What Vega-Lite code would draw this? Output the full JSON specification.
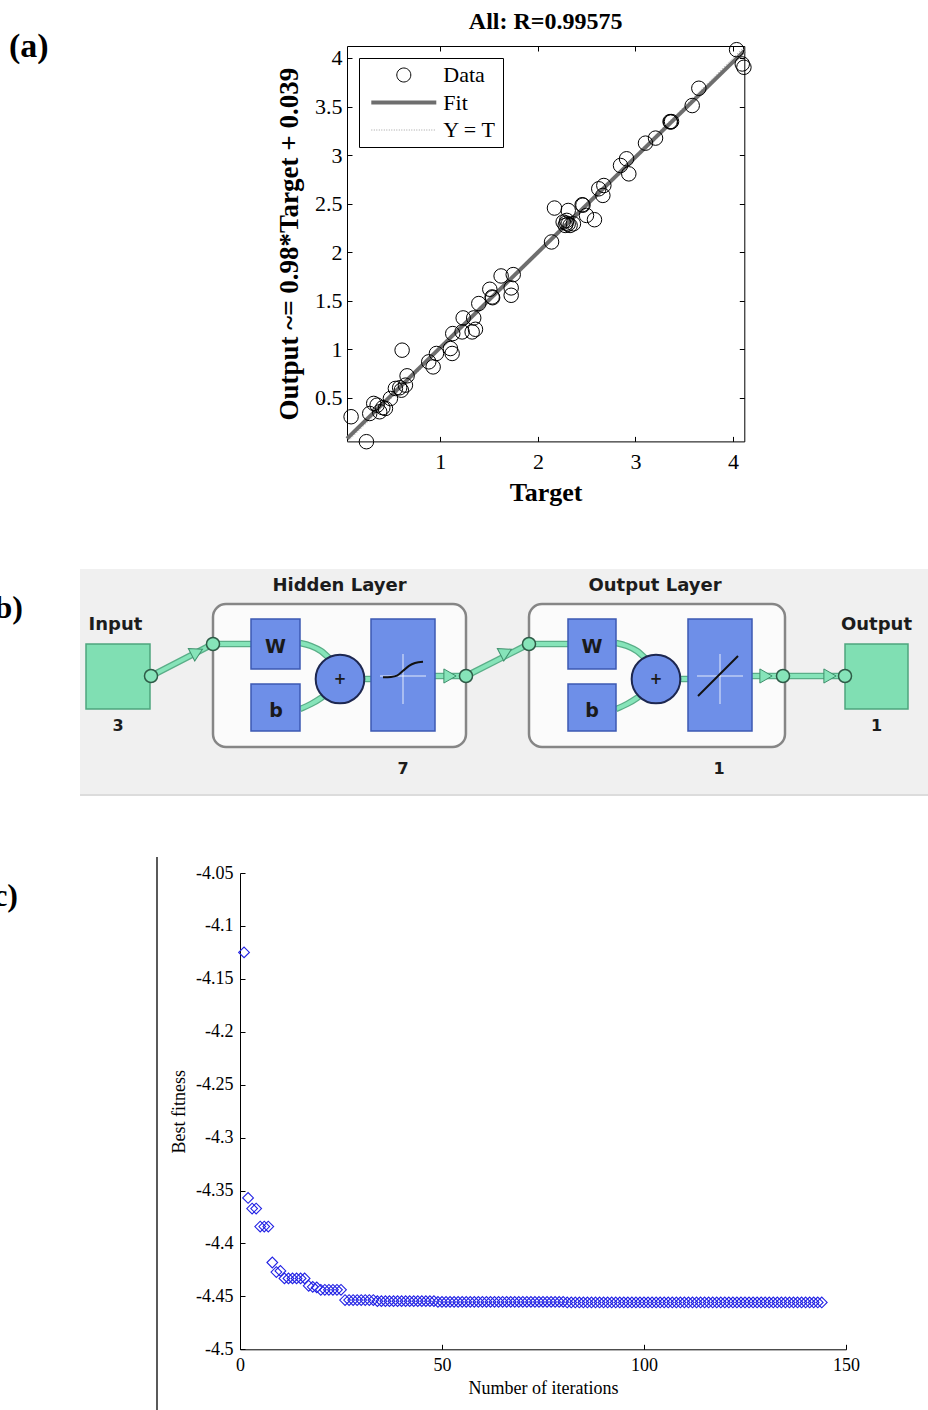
{
  "$schema": "https://vega.github.io/schema/vega-lite/v6.json",
  "background": "white",
  "padding": {"top": 10, "left": 0, "right": 0, "bottom": 0},
  "spacing": 60,
  "resolve": {"scale": {"color": "independent"}, "legend": {"color": "independent"}},
  "datasets": {
    "regression": [
      {"target": 0.085, "output": 0.307}, {"target": 0.242, "output": 0.05}, {"target": 0.276, "output": 0.34},
      {"target": 0.317, "output": 0.444}, {"target": 0.352, "output": 0.426}, {"target": 0.378, "output": 0.358},
      {"target": 0.41, "output": 0.4}, {"target": 0.437, "output": 0.392}, {"target": 0.488, "output": 0.495},
      {"target": 0.539, "output": 0.598}, {"target": 0.583, "output": 0.605}, {"target": 0.6, "output": 0.58},
      {"target": 0.608, "output": 0.992}, {"target": 0.642, "output": 0.632}, {"target": 0.659, "output": 0.728},
      {"target": 0.881, "output": 0.872}, {"target": 0.926, "output": 0.82}, {"target": 0.96, "output": 0.958},
      {"target": 1.103, "output": 1.009}, {"target": 1.121, "output": 0.958}, {"target": 1.127, "output": 1.163},
      {"target": 1.223, "output": 1.18}, {"target": 1.234, "output": 1.324}, {"target": 1.326, "output": 1.18},
      {"target": 1.342, "output": 1.324}, {"target": 1.36, "output": 1.207}, {"target": 1.394, "output": 1.472},
      {"target": 1.507, "output": 1.619}, {"target": 1.531, "output": 1.54}, {"target": 1.536, "output": 1.532},
      {"target": 1.623, "output": 1.756}, {"target": 1.726, "output": 1.557}, {"target": 1.726, "output": 1.633},
      {"target": 1.747, "output": 1.77}, {"target": 2.14, "output": 2.106}, {"target": 2.17, "output": 2.455},
      {"target": 2.259, "output": 2.311}, {"target": 2.28, "output": 2.276}, {"target": 2.29, "output": 2.3},
      {"target": 2.296, "output": 2.328}, {"target": 2.311, "output": 2.43}, {"target": 2.31, "output": 2.29},
      {"target": 2.33, "output": 2.276}, {"target": 2.364, "output": 2.293}, {"target": 2.454, "output": 2.489},
      {"target": 2.462, "output": 2.485}, {"target": 2.498, "output": 2.379}, {"target": 2.58, "output": 2.335},
      {"target": 2.624, "output": 2.653}, {"target": 2.676, "output": 2.687}, {"target": 2.666, "output": 2.585},
      {"target": 2.847, "output": 2.893}, {"target": 2.909, "output": 2.962}, {"target": 2.932, "output": 2.807},
      {"target": 3.103, "output": 3.123}, {"target": 3.206, "output": 3.175}, {"target": 3.355, "output": 3.345},
      {"target": 3.36, "output": 3.34}, {"target": 3.37, "output": 3.345}, {"target": 3.582, "output": 3.51},
      {"target": 3.65, "output": 3.688}, {"target": 4.037, "output": 4.085}, {"target": 4.095, "output": 3.938},
      {"target": 4.112, "output": 3.904}
    ],
    "fitLine": [
      {"target": 0.043, "output": 0.0811},
      {"target": 4.116, "output": 4.07268}
    ],
    "identityLine": [
      {"target": 0.053, "output": 0.053},
      {"target": 4.116, "output": 4.116}
    ],
    "panelEdge": [{"x": 0, "x2": 848, "y": 226}],
    "layerFrames": [
      {"x": 133, "x2": 386, "y": 35, "y2": 178},
      {"x": 449, "x2": 705, "y": 35, "y2": 178}
    ],
    "ioBlocks": [
      {"x": 6, "x2": 70, "y": 75, "y2": 140},
      {"x": 765, "x2": 828, "y": 75, "y2": 140}
    ],
    "weightBlocks": [
      {"x": 171, "x2": 220, "y": 50, "y2": 100},
      {"x": 171, "x2": 220, "y": 115, "y2": 162},
      {"x": 291, "x2": 355, "y": 50, "y2": 162},
      {"x": 488, "x2": 536, "y": 50, "y2": 100},
      {"x": 488, "x2": 536, "y": 115, "y2": 162},
      {"x": 608, "x2": 672, "y": 50, "y2": 162}
    ],
    "links": [
      {"path": "p1", "i": 0, "x": 71, "y": 107}, {"path": "p1", "i": 1, "x": 133, "y": 75},
      {"path": "p2", "i": 0, "x": 133, "y": 75}, {"path": "p2", "i": 1, "x": 171, "y": 75},
      {"path": "p3", "i": 0, "x": 220, "y": 74}, {"path": "p3", "i": 1, "x": 231, "y": 77},
      {"path": "p3", "i": 2, "x": 241, "y": 82}, {"path": "p3", "i": 3, "x": 250, "y": 90},
      {"path": "p4", "i": 0, "x": 220, "y": 140}, {"path": "p4", "i": 1, "x": 231, "y": 135},
      {"path": "p4", "i": 2, "x": 241, "y": 129}, {"path": "p4", "i": 3, "x": 250, "y": 122},
      {"path": "p5", "i": 0, "x": 284, "y": 110}, {"path": "p5", "i": 1, "x": 291, "y": 110},
      {"path": "p6", "i": 0, "x": 355, "y": 107}, {"path": "p6", "i": 1, "x": 386, "y": 107},
      {"path": "p7", "i": 0, "x": 386, "y": 107}, {"path": "p7", "i": 1, "x": 449, "y": 75},
      {"path": "p8", "i": 0, "x": 449, "y": 75}, {"path": "p8", "i": 1, "x": 488, "y": 75},
      {"path": "p9", "i": 0, "x": 536, "y": 74}, {"path": "p9", "i": 1, "x": 547, "y": 77},
      {"path": "p9", "i": 2, "x": 557, "y": 82}, {"path": "p9", "i": 3, "x": 566, "y": 90},
      {"path": "p10", "i": 0, "x": 536, "y": 140}, {"path": "p10", "i": 1, "x": 547, "y": 135},
      {"path": "p10", "i": 2, "x": 557, "y": 129}, {"path": "p10", "i": 3, "x": 566, "y": 122},
      {"path": "p11", "i": 0, "x": 600, "y": 110}, {"path": "p11", "i": 1, "x": 608, "y": 110},
      {"path": "p12", "i": 0, "x": 672, "y": 107}, {"path": "p12", "i": 1, "x": 703, "y": 107},
      {"path": "p13", "i": 0, "x": 703, "y": 107}, {"path": "p13", "i": 1, "x": 765, "y": 107}
    ],
    "transferAxes": [
      {"seg": "h1", "i": 0, "x": 300, "y": 107}, {"seg": "h1", "i": 1, "x": 346, "y": 107},
      {"seg": "v1", "i": 0, "x": 323, "y": 85}, {"seg": "v1", "i": 1, "x": 323, "y": 135},
      {"seg": "h2", "i": 0, "x": 617, "y": 107}, {"seg": "h2", "i": 1, "x": 663, "y": 107},
      {"seg": "v2", "i": 0, "x": 640, "y": 85}, {"seg": "v2", "i": 1, "x": 640, "y": 135}
    ],
    "transferCurves": [
      {"seg": "tansig", "i": 0, "x": 303, "y": 108.3}, {"seg": "tansig", "i": 1, "x": 311, "y": 107.9},
      {"seg": "tansig", "i": 2, "x": 317, "y": 106.6}, {"seg": "tansig", "i": 3, "x": 323, "y": 101.8},
      {"seg": "tansig", "i": 4, "x": 329, "y": 96.8}, {"seg": "tansig", "i": 5, "x": 335, "y": 94},
      {"seg": "tansig", "i": 6, "x": 343, "y": 92.7},
      {"seg": "purelin", "i": 0, "x": 618, "y": 127}, {"seg": "purelin", "i": 1, "x": 658, "y": 87}
    ],
    "arrowHeads": [
      {"x": 117, "y": 83, "angle": -27},
      {"x": 370, "y": 107, "angle": 0},
      {"x": 426, "y": 83, "angle": -27},
      {"x": 686, "y": 107, "angle": 0},
      {"x": 750, "y": 107, "angle": 0}
    ],
    "nodes": [
      {"x": 71, "y": 107}, {"x": 133, "y": 75}, {"x": 386, "y": 107},
      {"x": 449, "y": 75}, {"x": 703, "y": 107}, {"x": 765, "y": 107}
    ],
    "sums": [{"x": 260, "y": 110}, {"x": 576, "y": 110}],
    "blockTitles": [
      {"label": "Hidden Layer", "x": 259.5, "y": 22},
      {"label": "Output Layer", "x": 575, "y": 22},
      {"label": "Input", "x": 35.5, "y": 60.5},
      {"label": "Output", "x": 796.5, "y": 60.5}
    ],
    "blockSizes": [
      {"label": "3", "x": 38, "y": 161.5},
      {"label": "1", "x": 796.5, "y": 161.5},
      {"label": "7", "x": 323, "y": 205},
      {"label": "1", "x": 639, "y": 205}
    ],
    "weightLabels": [
      {"label": "W", "x": 195.5, "y": 84},
      {"label": "b", "x": 196, "y": 148},
      {"label": "W", "x": 512, "y": 84},
      {"label": "b", "x": 512, "y": 148}
    ],
    "sumLabels": [{"label": "+", "x": 260, "y": 110}, {"label": "+", "x": 576, "y": 110}],
    "fitness": [
      {"iteration": 1, "fitness": -4.125}, {"iteration": 2, "fitness": -4.357}, {"iteration": 3, "fitness": -4.367},
      {"iteration": 4, "fitness": -4.367}, {"iteration": 5, "fitness": -4.384}, {"iteration": 6, "fitness": -4.384},
      {"iteration": 7, "fitness": -4.384}, {"iteration": 8, "fitness": -4.418}, {"iteration": 9, "fitness": -4.427},
      {"iteration": 10, "fitness": -4.426}, {"iteration": 11, "fitness": -4.433}, {"iteration": 12, "fitness": -4.433},
      {"iteration": 13, "fitness": -4.433}, {"iteration": 14, "fitness": -4.433}, {"iteration": 15, "fitness": -4.433},
      {"iteration": 16, "fitness": -4.433}, {"iteration": 17, "fitness": -4.44}, {"iteration": 18, "fitness": -4.441},
      {"iteration": 19, "fitness": -4.4415}, {"iteration": 20, "fitness": -4.4438}, {"iteration": 21, "fitness": -4.4438},
      {"iteration": 22, "fitness": -4.4438}, {"iteration": 23, "fitness": -4.4438}, {"iteration": 24, "fitness": -4.4438},
      {"iteration": 25, "fitness": -4.4438}, {"iteration": 26, "fitness": -4.4535}, {"iteration": 27, "fitness": -4.4535},
      {"iteration": 28, "fitness": -4.4535}, {"iteration": 29, "fitness": -4.4535}, {"iteration": 30, "fitness": -4.4535},
      {"iteration": 31, "fitness": -4.4535}, {"iteration": 32, "fitness": -4.4535}, {"iteration": 33, "fitness": -4.4535},
      {"iteration": 34, "fitness": -4.4545}, {"iteration": 35, "fitness": -4.4545}, {"iteration": 36, "fitness": -4.4545},
      {"iteration": 37, "fitness": -4.4545}, {"iteration": 38, "fitness": -4.4545}, {"iteration": 39, "fitness": -4.4545},
      {"iteration": 40, "fitness": -4.4545}, {"iteration": 41, "fitness": -4.4545}, {"iteration": 42, "fitness": -4.4545},
      {"iteration": 43, "fitness": -4.4545}, {"iteration": 44, "fitness": -4.4545}, {"iteration": 45, "fitness": -4.4545},
      {"iteration": 46, "fitness": -4.4545}, {"iteration": 47, "fitness": -4.4545}, {"iteration": 48, "fitness": -4.4545},
      {"iteration": 49, "fitness": -4.4552}, {"iteration": 50, "fitness": -4.4552}, {"iteration": 51, "fitness": -4.4552},
      {"iteration": 52, "fitness": -4.4552}, {"iteration": 53, "fitness": -4.4552}, {"iteration": 54, "fitness": -4.4552},
      {"iteration": 55, "fitness": -4.4552}, {"iteration": 56, "fitness": -4.4552}, {"iteration": 57, "fitness": -4.4552},
      {"iteration": 58, "fitness": -4.4552}, {"iteration": 59, "fitness": -4.4552}, {"iteration": 60, "fitness": -4.4552},
      {"iteration": 61, "fitness": -4.4552}, {"iteration": 62, "fitness": -4.4552}, {"iteration": 63, "fitness": -4.4552},
      {"iteration": 64, "fitness": -4.4552}, {"iteration": 65, "fitness": -4.4552}, {"iteration": 66, "fitness": -4.4552},
      {"iteration": 67, "fitness": -4.4552}, {"iteration": 68, "fitness": -4.4552}, {"iteration": 69, "fitness": -4.4552},
      {"iteration": 70, "fitness": -4.4552}, {"iteration": 71, "fitness": -4.4552}, {"iteration": 72, "fitness": -4.4552},
      {"iteration": 73, "fitness": -4.4552}, {"iteration": 74, "fitness": -4.4552}, {"iteration": 75, "fitness": -4.4552},
      {"iteration": 76, "fitness": -4.4552}, {"iteration": 77, "fitness": -4.4552}, {"iteration": 78, "fitness": -4.4552},
      {"iteration": 79, "fitness": -4.4552}, {"iteration": 80, "fitness": -4.4552}, {"iteration": 81, "fitness": -4.4557},
      {"iteration": 82, "fitness": -4.4557}, {"iteration": 83, "fitness": -4.4557}, {"iteration": 84, "fitness": -4.4557},
      {"iteration": 85, "fitness": -4.4557}, {"iteration": 86, "fitness": -4.4557}, {"iteration": 87, "fitness": -4.4557},
      {"iteration": 88, "fitness": -4.4557}, {"iteration": 89, "fitness": -4.4557}, {"iteration": 90, "fitness": -4.4557},
      {"iteration": 91, "fitness": -4.4557}, {"iteration": 92, "fitness": -4.4557}, {"iteration": 93, "fitness": -4.4557},
      {"iteration": 94, "fitness": -4.4557}, {"iteration": 95, "fitness": -4.4557}, {"iteration": 96, "fitness": -4.4557},
      {"iteration": 97, "fitness": -4.4557}, {"iteration": 98, "fitness": -4.4557}, {"iteration": 99, "fitness": -4.4557},
      {"iteration": 100, "fitness": -4.4557}, {"iteration": 101, "fitness": -4.4557}, {"iteration": 102, "fitness": -4.4557},
      {"iteration": 103, "fitness": -4.4557}, {"iteration": 104, "fitness": -4.4557}, {"iteration": 105, "fitness": -4.4557},
      {"iteration": 106, "fitness": -4.4557}, {"iteration": 107, "fitness": -4.4557}, {"iteration": 108, "fitness": -4.4557},
      {"iteration": 109, "fitness": -4.4557}, {"iteration": 110, "fitness": -4.4557}, {"iteration": 111, "fitness": -4.4557},
      {"iteration": 112, "fitness": -4.4557}, {"iteration": 113, "fitness": -4.4557}, {"iteration": 114, "fitness": -4.4557},
      {"iteration": 115, "fitness": -4.4557}, {"iteration": 116, "fitness": -4.4557}, {"iteration": 117, "fitness": -4.4557},
      {"iteration": 118, "fitness": -4.4557}, {"iteration": 119, "fitness": -4.4557}, {"iteration": 120, "fitness": -4.4557},
      {"iteration": 121, "fitness": -4.4557}, {"iteration": 122, "fitness": -4.4557}, {"iteration": 123, "fitness": -4.4557},
      {"iteration": 124, "fitness": -4.4557}, {"iteration": 125, "fitness": -4.4557}, {"iteration": 126, "fitness": -4.4557},
      {"iteration": 127, "fitness": -4.4557}, {"iteration": 128, "fitness": -4.4557}, {"iteration": 129, "fitness": -4.4557},
      {"iteration": 130, "fitness": -4.4557}, {"iteration": 131, "fitness": -4.4557}, {"iteration": 132, "fitness": -4.4557},
      {"iteration": 133, "fitness": -4.4557}, {"iteration": 134, "fitness": -4.4557}, {"iteration": 135, "fitness": -4.4557},
      {"iteration": 136, "fitness": -4.4557}, {"iteration": 137, "fitness": -4.4557}, {"iteration": 138, "fitness": -4.4557},
      {"iteration": 139, "fitness": -4.4557}, {"iteration": 140, "fitness": -4.4557}, {"iteration": 141, "fitness": -4.4557},
      {"iteration": 142, "fitness": -4.4557}, {"iteration": 143, "fitness": -4.4557}, {"iteration": 144, "fitness": -4.4557}
    ]
  },
  "vconcat": [
    {
      "bounds": "flush",
      "spacing": 0,
      "resolve": {"scale": {"color": "independent"}, "legend": {"color": "independent"}},
      "hconcat": [
        {
          "width": 346.7,
          "height": 462.7,
          "data": {"values": [{"label": "(a)"}]},
          "mark": {"type": "text", "font": "Liberation Serif", "fontSize": 34, "fontWeight": "bold", "color": "#000000", "align": "left", "baseline": "middle"},
          "encoding": {"text": {"field": "label"}, "x": {"value": 9}, "y": {"value": 1}}
        },
        {
          "width": 397.3,
          "height": 395.4,
          "title": {"text": "All: R=0.99575", "font": "Liberation Serif", "fontSize": 24, "fontWeight": "bold", "color": "#000000", "frame": "group", "anchor": "middle", "baseline": "alphabetic", "offset": -13},
          "layer": [
            {
              "data": {"name": "identityLine"},
              "mark": {"type": "line", "strokeWidth": 1, "strokeDash": [1, 2]},
              "encoding": {
                "x": {"field": "target", "type": "quantitative", "scale": {"domain": [0.043, 4.116], "nice": false, "zero": false},
                  "axis": {"orient": "bottom", "values": [1, 2, 3, 4], "format": "~g", "labelFontSize": 22, "labelPadding": 15, "title": "Target", "titleFontSize": 26, "titleFontWeight": "bold", "titlePadding": 7}},
                "y": {"field": "output", "type": "quantitative", "scale": {"domain": [0.053, 4.123], "nice": false, "zero": false},
                  "axis": {"orient": "left", "values": [0.5, 1, 1.5, 2, 2.5, 3, 3.5, 4], "format": "~g", "labelFontSize": 22, "labelPadding": 10, "title": "Output ~= 0.98*Target + 0.039", "titleFontSize": 27, "titleFontWeight": "bold", "titlePadding": 11}},
                "color": {"datum": "Y = T", "type": "nominal",
                  "scale": {"domain": ["Data", "Fit", "Y = T"], "range": ["#000000", "#6e6e6e", "#a0a0a0"]},
                  "legend": {
                    "title": null, "orient": "top-left", "offset": 12, "padding": 6,
                    "strokeColor": "#000000", "fillColor": "#ffffff",
                    "labelFont": "Liberation Serif", "labelFontSize": 22, "labelColor": "#000000",
                    "symbolSize": 4225, "symbolOffset": 27.8, "labelOffset": 28.5, "rowPadding": 5.5, "symbolStrokeWidth": 1,
                    "encode": {
                      "symbols": {
                        "update": {
                          "shape": {"signal": "datum.value === 'Data' ? 'M0.2154,0A0.2154,0.2154,0,1,1,-0.2154,0A0.2154,0.2154,0,1,1,0.2154,0Z' : 'stroke'"},
                          "strokeWidth": {"signal": "datum.value === 'Fit' ? 4 : 1"},
                          "strokeDash": {"signal": "datum.value === 'Y = T' ? [1, 1.5] : null"},
                          "stroke": {"scale": "color", "field": "value"},
                          "fill": {"value": "transparent"}
                        }
                      }
                    }
                  }
                }
              }
            },
            {
              "data": {"name": "fitLine"},
              "mark": {"type": "line", "strokeWidth": 4},
              "encoding": {
                "x": {"field": "target", "type": "quantitative", "scale": {"domain": [0.043, 4.116], "nice": false, "zero": false},
                  "axis": {"orient": "top", "values": [1, 2, 3, 4], "labels": false, "title": null}},
                "y": {"field": "output", "type": "quantitative", "scale": {"domain": [0.053, 4.123], "nice": false, "zero": false},
                  "axis": {"orient": "right", "values": [0.5, 1, 1.5, 2, 2.5, 3, 3.5, 4], "labels": false, "title": null}},
                "color": {"datum": "Fit", "type": "nominal"}
              }
            },
            {
              "data": {"name": "regression"},
              "mark": {"type": "point", "filled": false, "size": 210, "strokeWidth": 1, "opacity": 1},
              "encoding": {
                "x": {"field": "target", "type": "quantitative", "axis": null},
                "y": {"field": "output", "type": "quantitative", "axis": null},
                "color": {"datum": "Data", "type": "nominal"}
              }
            }
          ],
          "resolve": {"axis": {"x": "independent", "y": "independent"}}
        }
      ]
    },
    {
      "bounds": "flush",
      "spacing": 0,
      "hconcat": [
        {
          "width": 80,
          "height": 227,
          "data": {"values": [{"label": "(b)"}]},
          "mark": {"type": "text", "font": "Liberation Serif", "fontSize": 32, "fontWeight": "bold", "color": "#000000", "align": "right", "baseline": "middle", "clip": true},
          "encoding": {"text": {"field": "label"}, "x": {"value": 23}, "y": {"value": 39}}
        },
        {
          "width": 848,
          "height": 227,
          "view": {"fill": "#f0f0f0", "stroke": null},
          "encoding": {
            "x": {"field": "x", "type": "quantitative", "scale": {"domain": [0, 848], "nice": false, "zero": false}, "axis": null},
            "y": {"field": "y", "type": "quantitative", "scale": {"domain": [0, 227], "nice": false, "zero": false, "reverse": true}, "axis": null}
          },
          "layer": [
            {"data": {"name": "panelEdge"}, "mark": {"type": "rule", "color": "#d6d6d6", "strokeWidth": 1.5}, "encoding": {"x2": {"field": "x2"}}},
            {"data": {"name": "layerFrames"}, "mark": {"type": "rect", "fill": "#fbfbfb", "stroke": "#868686", "strokeWidth": 2.5, "cornerRadius": 13}, "encoding": {"x2": {"field": "x2"}, "y2": {"field": "y2"}}},
            {"data": {"name": "links"}, "mark": {"type": "line", "color": "#5aae88", "strokeWidth": 6.5, "interpolate": "monotone"}, "encoding": {"detail": {"field": "path"}, "order": {"field": "i"}}},
            {"data": {"name": "links"}, "mark": {"type": "line", "color": "#86e4b9", "strokeWidth": 4, "interpolate": "monotone"}, "encoding": {"detail": {"field": "path"}, "order": {"field": "i"}}},
            {"data": {"name": "ioBlocks"}, "mark": {"type": "rect", "fill": "#80dfb3", "stroke": "#4da57e", "strokeWidth": 1.5}, "encoding": {"x2": {"field": "x2"}, "y2": {"field": "y2"}}},
            {"data": {"name": "weightBlocks"}, "mark": {"type": "rect", "fill": "#6e8fe8", "stroke": "#3c59b3", "strokeWidth": 1.5}, "encoding": {"x2": {"field": "x2"}, "y2": {"field": "y2"}}},
            {"data": {"name": "transferAxes"}, "mark": {"type": "line", "color": "#ffffff", "opacity": 0.55, "strokeWidth": 1.5}, "encoding": {"detail": {"field": "seg"}, "order": {"field": "i"}}},
            {"data": {"name": "transferCurves"}, "mark": {"type": "line", "color": "#111111", "strokeWidth": 2, "interpolate": "monotone"}, "encoding": {"detail": {"field": "seg"}, "order": {"field": "i"}}},
            {"data": {"name": "arrowHeads"}, "mark": {"type": "point", "shape": "triangle-right", "filled": true, "size": 200, "fill": "#86e4b9", "stroke": "#3f8f6c", "strokeWidth": 1, "opacity": 1}, "encoding": {"angle": {"field": "angle", "type": "quantitative", "scale": null}}},
            {"data": {"name": "nodes"}, "mark": {"type": "point", "shape": "circle", "filled": true, "size": 170, "fill": "#86e4b9", "stroke": "#2e5b47", "strokeWidth": 1.5, "opacity": 1}},
            {"data": {"name": "sums"}, "mark": {"type": "point", "shape": "circle", "filled": true, "size": 2370, "fill": "#6e8fe8", "stroke": "#1d2750", "strokeWidth": 2, "opacity": 1}},
            {"data": {"name": "blockTitles"}, "mark": {"type": "text", "font": "DejaVu Sans", "fontWeight": "bold", "fontSize": 18, "color": "#1c1c1c", "baseline": "alphabetic", "align": "center"}, "encoding": {"text": {"field": "label"}}},
            {"data": {"name": "blockSizes"}, "mark": {"type": "text", "font": "DejaVu Sans", "fontWeight": "bold", "fontSize": 16, "color": "#1c1c1c", "baseline": "alphabetic", "align": "center"}, "encoding": {"text": {"field": "label"}}},
            {"data": {"name": "weightLabels"}, "mark": {"type": "text", "font": "DejaVu Sans", "fontWeight": "bold", "fontSize": 19, "color": "#1a1a1a", "baseline": "alphabetic", "align": "center"}, "encoding": {"text": {"field": "label"}}},
            {"data": {"name": "sumLabels"}, "mark": {"type": "text", "font": "DejaVu Sans", "fontWeight": "bold", "fontSize": 15, "color": "#1a1a1a", "baseline": "middle", "align": "center"}, "encoding": {"text": {"field": "label"}}}
          ]
        }
      ]
    },
    {
      "bounds": "flush",
      "spacing": 0,
      "hconcat": [
        {
          "width": 240,
          "height": 537,
          "data": {"values": [{"label": "(c)"}]},
          "layer": [
            {
              "mark": {"type": "text", "font": "Liberation Serif", "fontSize": 32, "fontWeight": "bold", "color": "#000000", "align": "right", "baseline": "middle", "clip": true},
              "encoding": {"text": {"field": "label"}, "x": {"value": 18}, "y": {"value": 23}}
            },
            {
              "mark": {"type": "rule", "color": "#000000", "strokeWidth": 1.3},
              "encoding": {"x": {"value": 157}, "y": {"value": -16}, "y2": {"value": "height"}}
            }
          ]
        },
        {
          "width": 606,
          "height": 476.3,
          "data": {"name": "fitness"},
          "mark": {"type": "point", "shape": "diamond", "filled": false, "size": 115, "color": "#2222e4", "strokeWidth": 1.1, "opacity": 1},
          "encoding": {
            "x": {"field": "iteration", "type": "quantitative", "scale": {"domain": [0, 150], "nice": false, "zero": false},
              "axis": {"values": [0, 50, 100, 150], "labelFontSize": 18, "labelPadding": 12.5, "title": "Number of iterations", "titleFontSize": 18, "titleFontWeight": "normal", "titlePadding": 5}},
            "y": {"field": "fitness", "type": "quantitative", "scale": {"domain": [-4.5, -4.05], "nice": false, "zero": false},
              "axis": {"values": [-4.5, -4.45, -4.4, -4.35, -4.3, -4.25, -4.2, -4.15, -4.1, -4.05], "format": "~g", "labelExpr": "replace(datum.label, '\u2212', '-')", "labelFontSize": 18, "labelPadding": 12, "title": "Best fitness", "titleFontSize": 18, "titleFontWeight": "normal", "titlePadding": 7}}
          }
        }
      ]
    }
  ],
  "config": {
    "view": {"stroke": null},
    "axis": {
      "grid": false, "domainColor": "#000000", "tickColor": "#000000", "labelColor": "#000000", "titleColor": "#000000",
      "labelFont": "Liberation Serif", "titleFont": "Liberation Serif", "tickSize": -5, "domainWidth": 1, "tickWidth": 1,
      "labelFlush": false, "labelOverlap": false, "labelAngle": 0
    }
  }
}
